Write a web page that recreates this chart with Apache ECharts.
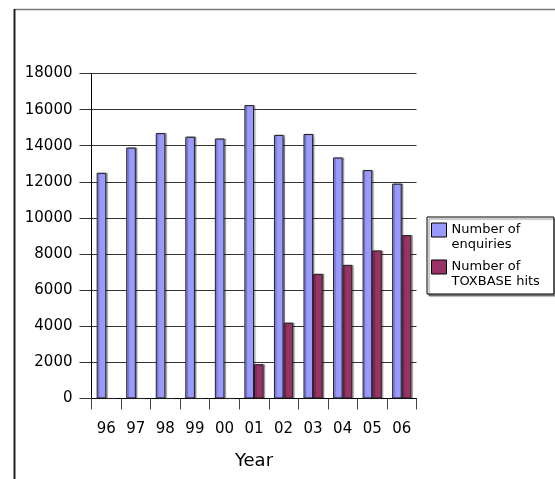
<!DOCTYPE html>
<html>
<head>
<meta charset="utf-8">
<title>Enquiries and TOXBASE hits by year</title>
<script src="https://cdn.jsdelivr.net/npm/echarts@6/dist/echarts.min.js"></script>
<style>
  html, body { margin: 0; padding: 0; background: #fff; }
  #chart { width: 555px; height: 479px; }
</style>
</head>
<body>
<div id="chart"></div>
<script>
// Years shown on the category axis
var years = ['96', '97', '98', '99', '00', '01', '02', '03', '04', '05', '06'];
// Number of enquiries per year
var enquiries = [12500, 13900, 14700, 14500, 14400, 16250, 14600, 14650, 13350, 12650, 11900];
// Number of TOXBASE hits per year (none recorded before 01)
var toxbaseHits = [0, 0, 0, 0, 0, 1900, 4200, 6900, 7400, 8200, 9050];
// Value axis ticks
var yTicks = [0, 2000, 4000, 6000, 8000, 10000, 12000, 14000, 16000, 18000];

var FONT = '"DejaVu Sans", Verdana, sans-serif';

var chart = echarts.init(document.getElementById('chart'), null, { renderer: 'canvas' });

var barShadow = {
  shadowColor: 'rgba(0,0,0,0.35)',
  shadowBlur: 1,
  shadowOffsetX: 1.5,
  shadowOffsetY: 0
};

chart.setOption({
  animation: false,
  backgroundColor: '#fff',
  textStyle: { fontFamily: FONT },
  graphic: [
    // chart frame (left and top edges)
    { type: 'line', shape: { x1: 14, y1: 9.5, x2: 560, y2: 9.5 }, style: { stroke: '#777', lineWidth: 1.5 }, z: 0 },
    { type: 'line', shape: { x1: 14.5, y1: 9, x2: 14.5, y2: 485 }, style: { stroke: '#222', lineWidth: 2 }, z: 0 }
  ],
  grid: {
    left: 91.5,
    right: 138.5,
    top: 73.5,
    bottom: 80.5,
    outerBoundsMode: 'none',
    containLabel: false
  },
  legend: {
    orient: 'vertical',
    left: 427,
    top: 217,
    padding: [-9.5, 14, 4.5, 4],
    itemGap: -8,
    itemWidth: 15,
    itemHeight: 14,
    icon: 'rect',
    backgroundColor: '#fff',
    borderColor: '#000',
    borderWidth: 1,
    shadowColor: 'rgba(0,0,0,0.45)',
    shadowBlur: 1,
    shadowOffsetX: 2,
    shadowOffsetY: 2,
    itemStyle: { borderColor: '#000', borderWidth: 1 },
    // a leading blank line keeps the first text line level with the swatch
    formatter: function (name) { return '\n' + name.replace(' of ', ' of\n'); },
    textStyle: {
      fontFamily: FONT,
      fontSize: 13,
      color: '#000',
      lineHeight: 15
    },
    data: ['Number of enquiries', 'Number of TOXBASE hits']
  },
  xAxis: {
    type: 'category',
    data: years,
    boundaryGap: true,
    name: 'Year',
    nameLocation: 'middle',
    nameGap: 54,
    nameTextStyle: { fontFamily: FONT, fontSize: 18, color: '#000' },
    axisLine: { show: true, lineStyle: { color: '#000', width: 1 } },
    axisTick: { show: true, alignWithLabel: false, length: 11, lineStyle: { color: '#444', width: 1 } },
    axisLabel: { fontFamily: FONT, fontSize: 15, color: '#000', margin: 23, interval: 0 },
    splitLine: { show: false }
  },
  yAxis: {
    type: 'value',
    min: yTicks[0],
    max: yTicks[yTicks.length - 1],
    interval: yTicks[1] - yTicks[0],
    axisLine: { show: true, lineStyle: { color: '#000', width: 1 } },
    axisTick: { show: true, length: 12, lineStyle: { color: '#333', width: 1 } },
    axisLabel: {
      fontFamily: FONT, fontSize: 15, color: '#000', margin: 19,
      formatter: function (v) { return String(v); }
    },
    splitLine: { show: true, lineStyle: { color: '#333', width: 1 } }
  },
  series: [
    {
      name: 'Number of enquiries',
      type: 'bar',
      data: enquiries,
      barGap: '0%',
      barCategoryGap: '35%',
      itemStyle: Object.assign({ color: '#9999ff', borderColor: '#222', borderWidth: 1 }, barShadow)
    },
    {
      name: 'Number of TOXBASE hits',
      type: 'bar',
      data: toxbaseHits,
      barGap: '0%',
      barCategoryGap: '35%',
      itemStyle: Object.assign({ color: '#993366', borderColor: '#222', borderWidth: 1 }, barShadow)
    }
  ]
});
</script>
</body>
</html>
